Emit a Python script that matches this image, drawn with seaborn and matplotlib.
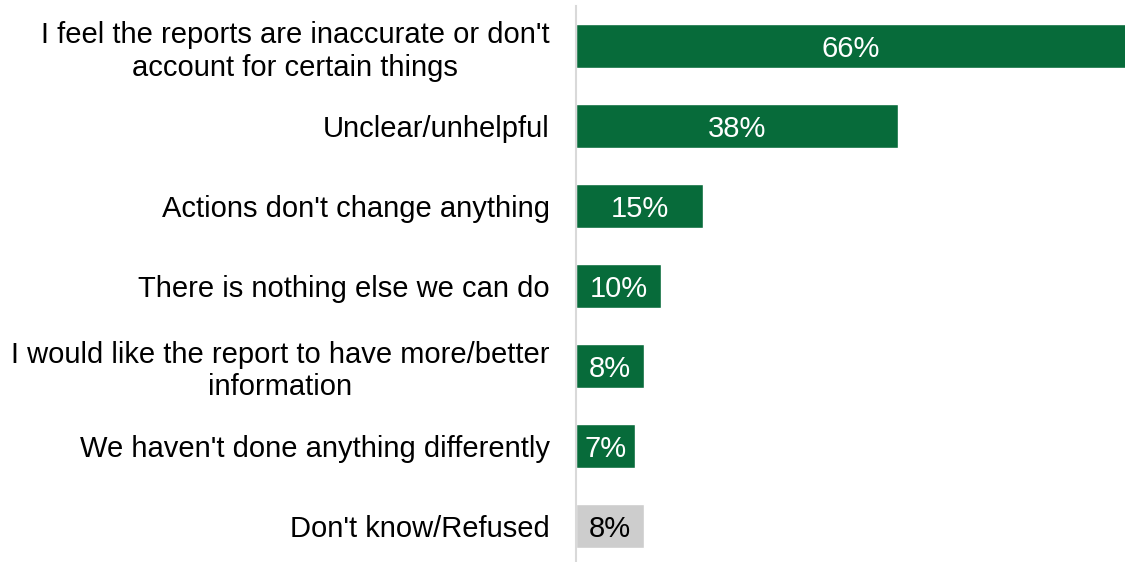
import matplotlib
matplotlib.use("Agg")
import matplotlib.pyplot as plt
import seaborn as sns
import pandas as pd

# Reasons given, in display order (top to bottom)
categories = [
    "I feel the reports are inaccurate or don't\naccount for certain things",
    "Unclear/unhelpful",
    "Actions don't change anything",
    "There is nothing else we can do",
    "I would like the report to have more/better\ninformation",
    "We haven't done anything differently",
    "Don't know/Refused",
]
percentages = [66, 38, 15, 10, 8, 7, 8]
bar_colors = ["#076B3A"] * 6 + ["#CDCDCD"]
label_colors = ["white"] * 6 + ["black"]

df = pd.DataFrame({"reason": categories, "pct": percentages})

sns.set_theme(style="white")
plt.rcParams["font.family"] = ["Liberation Sans", "DejaVu Sans"]

fig = plt.figure(figsize=(11.25, 5.62), dpi=100)
ax = fig.add_axes([0.512, 0.0, 0.488, 0.989])

sns.barplot(
    data=df, x="pct", y="reason", hue="reason", palette=bar_colors,
    legend=False, width=0.55, saturation=1, ax=ax, orient="h",
)

x_max = 64.8
ax.set_xlim(0, x_max)
ax.set_ylim(6.45, -0.5)

for i, (v, c) in enumerate(zip(percentages, label_colors)):
    ax.text(min(v, x_max) / 2, i, f"{v}%", ha="center",
            va="center_baseline", fontsize=21, color=c)

ax.set_xlabel("")
ax.set_ylabel("")
ax.set_xticks([])
ax.tick_params(axis="y", length=0, pad=19, labelsize=21, labelcolor="black")
for lbl in ax.get_yticklabels():
    lbl.set_multialignment("center")
    lbl.set_linespacing(1.2)

for side in ["top", "right", "bottom"]:
    ax.spines[side].set_visible(False)
ax.spines["left"].set_color("#D9D9D9")
ax.spines["left"].set_linewidth(1.5)

fig.savefig("out.png", dpi=100)
